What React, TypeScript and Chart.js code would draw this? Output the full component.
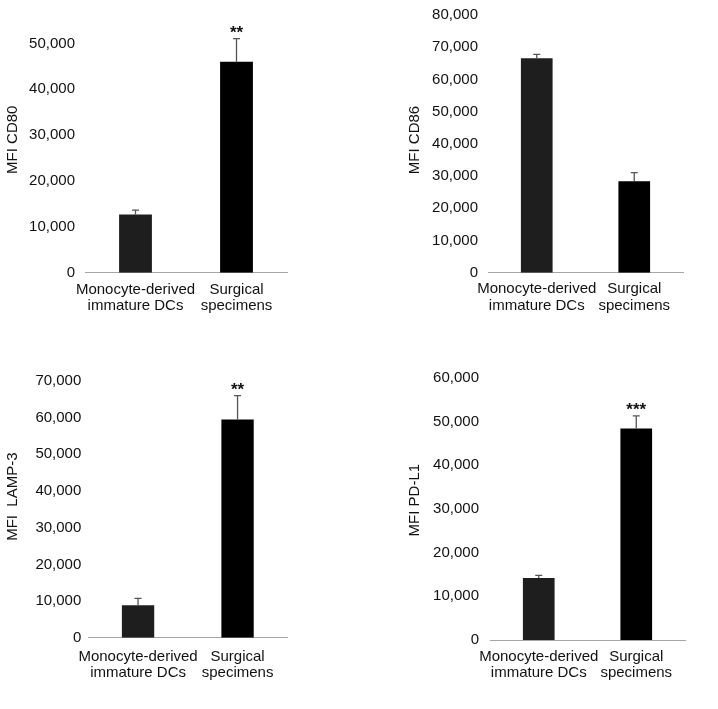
import React, { useEffect, useRef } from "react";
import { Chart, registerables } from "chart.js";

Chart.register(...registerables);

// ---- data ----
const categories: string[][] = [
  ["Monocyte-derived", "immature DCs"],
  ["Surgical", "specimens"],
];
const barColors = ["#1e1e1e", "#000000"];

const cd80Means = [12700, 46000];
const cd80Errors = [950, 5050];
const cd80Sig = ["", "**"];
const cd80Ticks = [0, 10000, 20000, 30000, 40000, 50000];

const cd86Means = [66600, 28400];
const cd86Errors = [1200, 2700];
const cd86Sig = ["", ""];
const cd86Ticks = [0, 10000, 20000, 30000, 40000, 50000, 60000, 70000, 80000];

const lamp3Means = [8900, 59500];
const lamp3Errors = [1850, 6450];
const lamp3Sig = ["", "**"];
const lamp3Ticks = [0, 10000, 20000, 30000, 40000, 50000, 60000, 70000];

const pdl1Means = [14200, 48400];
const pdl1Errors = [600, 2900];
const pdl1Sig = ["", "***"];
const pdl1Ticks = [0, 10000, 20000, 30000, 40000, 50000, 60000];

const FONT = '"Liberation Sans", Arial, sans-serif';

type Panel = {
  title: string;
  means: number[];
  errors: number[];
  sig: string[];
  ticks: number[];
  max: number;
  box: { x: number; y: number; w: number; h: number };
  area: { left: number; right: number; top: number; bottom: number };
  padLeft: number;
  yTickPad: number;
  xTickPad: number;
};

const panels: Panel[] = [
  {
    title: "MFI CD80",
    means: cd80Means,
    errors: cd80Errors,
    sig: cd80Sig,
    ticks: cd80Ticks,
    max: 58000,
    box: { x: 0, y: 0, w: 359, h: 350 },
    area: { left: 85, right: 287, top: 6.8, bottom: 272.7 },
    padLeft: 0,
    yTickPad: 10,
    xTickPad: 8.5,
  },
  {
    title: "MFI CD86",
    means: cd86Means,
    errors: cd86Errors,
    sig: cd86Sig,
    ticks: cd86Ticks,
    max: 82400,
    box: { x: 359, y: 0, w: 359, h: 350 },
    area: { left: 129, right: 324, top: 7.3, bottom: 272.7 },
    padLeft: 43,
    yTickPad: 10,
    xTickPad: 8,
  },
  {
    title: "MFI  LAMP-3",
    means: lamp3Means,
    errors: lamp3Errors,
    sig: lamp3Sig,
    ticks: lamp3Ticks,
    max: 76900,
    box: { x: 0, y: 350, w: 359, h: 359 },
    area: { left: 88.3, right: 287.3, top: 5.5, bottom: 287.8 },
    padLeft: 0,
    yTickPad: 7,
    xTickPad: 10.5,
  },
  {
    title: "MFI PD-L1",
    means: pdl1Means,
    errors: pdl1Errors,
    sig: pdl1Sig,
    ticks: pdl1Ticks,
    max: 64000,
    box: { x: 359, y: 350, w: 359, h: 359 },
    area: { left: 131, right: 326, top: 10.3, bottom: 290 },
    padLeft: 43,
    yTickPad: 11,
    xTickPad: 8.5,
  },
];

const errorBarPlugin = {
  id: "errorBars",
  afterDatasetsDraw(chart: any, _args: any, opts: any) {
    const { ctx } = chart;
    const meta = chart.getDatasetMeta(0);
    const yScale = chart.scales.y;
    const data = chart.data.datasets[0].data as number[];
    meta.data.forEach((bar: any, i: number) => {
      const v = data[i];
      const e = opts.errors[i];
      const x = bar.x;
      const y0 = yScale.getPixelForValue(v);
      const y1 = yScale.getPixelForValue(v + e);
      ctx.save();
      ctx.strokeStyle = "#555555";
      ctx.lineWidth = 1.3;
      ctx.beginPath();
      ctx.moveTo(x, y0);
      ctx.lineTo(x, y1);
      ctx.moveTo(x - 3.5, y1);
      ctx.lineTo(x + 3.5, y1);
      ctx.stroke();
      const s = opts.sig[i];
      if (s) {
        ctx.fillStyle = "#111111";
        ctx.font = `bold 17px ${FONT}`;
        ctx.textAlign = "center";
        ctx.textBaseline = "alphabetic";
        ctx.fillText(s, x, y1 - 0.5);
      }
      ctx.restore();
    });
  },
};

function BarPanel({ p }: { p: Panel }) {
  const ref = useRef<HTMLCanvasElement>(null);
  useEffect(() => {
    if (!ref.current) return;
    const { area, box } = p;
    const chart = new Chart(ref.current, {
      type: "bar",
      data: {
        labels: categories,
        datasets: [
          {
            data: p.means,
            backgroundColor: barColors,
            borderWidth: 0,
            barPercentage: 0.325,
            categoryPercentage: 1,
          },
        ],
      },
      plugins: [errorBarPlugin],
      options: {
        animation: false,
        responsive: false,
        events: [],
        layout: {
          padding: {
            left: p.padLeft,
            right: box.w - area.right,
            top: area.top,
            bottom: 0,
          },
        },
        plugins: {
          legend: { display: false },
          tooltip: { enabled: false },
          errorBars: { errors: p.errors, sig: p.sig },
        } as any,
        scales: {
          x: {
            grid: { display: false, drawTicks: false },
            border: { display: true, color: "#a6a6a6", width: 1 },
            ticks: {
              color: "#111111",
              padding: p.xTickPad,
              maxRotation: 0,
              autoSkip: false,
              font: { family: FONT, size: 15, lineHeight: 1.1 },
            },
            afterFit: (scale: any) => {
              scale.height = box.h - area.bottom;
              scale.paddingLeft = 0;
              scale.paddingRight = 0;
            },
          },
          y: {
            min: 0,
            max: p.max,
            bounds: "data",
            grid: { display: false, drawTicks: false },
            border: { display: false },
            afterBuildTicks: (scale: any) => {
              scale.ticks = p.ticks.map((v) => ({ value: v }));
            },
            ticks: {
              color: "#111111",
              padding: p.yTickPad,
              font: { family: FONT, size: 15 },
              callback: (v: any) => Number(v).toLocaleString("en-US"),
            },
            title: {
              display: true,
              text: p.title,
              color: "#111111",
              padding: { top: 4, bottom: 0 },
              font: { family: FONT, size: 15, lineHeight: 1.2 },
            },
            afterFit: (scale: any) => {
              scale.width = area.left - p.padLeft;
              scale.paddingTop = 0;
              scale.paddingBottom = 0;
            },
          },
        },
      },
    } as any);
    return () => chart.destroy();
  }, [p]);
  return (
    <canvas
      ref={ref}
      width={p.box.w}
      height={p.box.h}
      style={{
        position: "absolute",
        left: p.box.x,
        top: p.box.y,
        width: p.box.w,
        height: p.box.h,
      }}
    />
  );
}

export default function App() {
  return (
    <div
      style={{
        position: "absolute",
        left: 0,
        top: 0,
        width: 718,
        height: 709,
        background: "#ffffff",
        overflow: "hidden",
      }}
    >
      {panels.map((p, i) => (
        <BarPanel key={i} p={p} />
      ))}
    </div>
  );
}
